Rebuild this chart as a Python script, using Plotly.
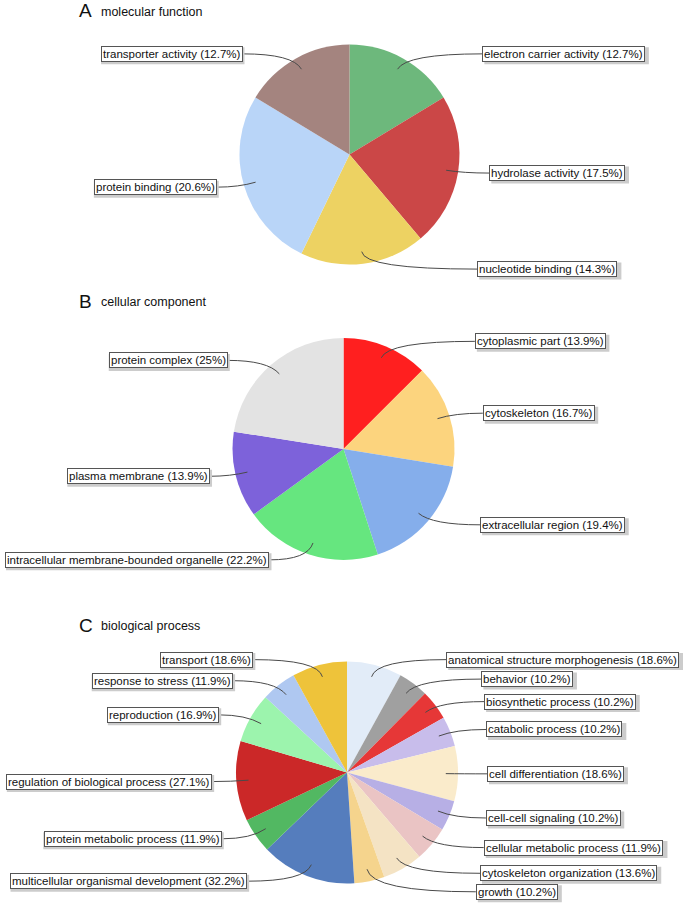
import math
import plotly.graph_objects as go

W, H = 685, 906

# ---------------- data ----------------
mf_labels = ["electron carrier activity", "hydrolase activity", "nucleotide binding",
             "protein binding", "transporter activity"]
mf_pct = [12.7, 17.5, 14.3, 20.6, 12.7]
mf_colors = ["#6DB87C", "#CB4747", "#EDD262", "#B9D5F8", "#A4847F"]

cc_labels = ["cytoplasmic part", "cytoskeleton", "extracellular region",
             "intracellular membrane-bounded organelle", "plasma membrane", "protein complex"]
cc_pct = [13.9, 16.7, 19.4, 22.2, 13.9, 25]
cc_colors = ["#FF1F1F", "#FCD47E", "#85AEEB", "#66E67F", "#7D62DA", "#E3E3E3"]

bp_labels = ["anatomical structure morphogenesis", "behavior", "biosynthetic process",
             "catabolic process", "cell differentiation", "cell-cell signaling",
             "cellular metabolic process", "cytoskeleton organization", "growth",
             "multicellular organismal development", "protein metabolic process",
             "regulation of biological process", "reproduction", "response to stress",
             "transport"]
bp_pct = [18.6, 10.2, 10.2, 10.2, 18.6, 10.2, 11.9, 13.6, 10.2, 32.2, 11.9, 27.1, 16.9, 11.9, 18.6]
bp_colors = ["#E2ECF8", "#A0A0A0", "#E63737", "#C8BDEB", "#FAEBCB", "#B7AFE5",
             "#EAC4C4", "#F4E3C4", "#F5D48D", "#557DBD", "#52B862", "#CB2828",
             "#9CF4AD", "#AFC8F1", "#EEC33A"]

panels = [
    dict(letter="A", name="molecular function", labels=mf_labels, pct=mf_pct, colors=mf_colors,
         cx=349.5, cy=154.5, r=110, ty=11),
    dict(letter="B", name="cellular component", labels=cc_labels, pct=cc_pct, colors=cc_colors,
         cx=343.5, cy=449, r=111, ty=301),
    dict(letter="C", name="biological process", labels=bp_labels, pct=bp_pct, colors=bp_colors,
         cx=347, cy=772.5, r=111, ty=625),
]

FONT = "Liberation Sans, Arial, sans-serif"
FS = 11.5
GAP = 18.5
BOX_H = 17

ARIAL = {'a': 556, 'b': 556, 'c': 500, 'd': 556, 'e': 556, 'f': 278, 'g': 556, 'h': 556, 'i': 222,
         'j': 222, 'k': 500, 'l': 222, 'm': 833, 'n': 556, 'o': 556, 'p': 556, 'q': 556, 'r': 333,
         's': 500, 't': 278, 'u': 556, 'v': 500, 'w': 722, 'x': 500, 'y': 500, 'z': 500, ' ': 278,
         '(': 333, ')': 333, '.': 278, '%': 889, '-': 333}


def text_w(s):
    return sum(ARIAL.get(ch, 556) for ch in s) / 1000 * FS


def px(x):
    return x / W


def py(y):
    return 1 - y / H


fig = go.Figure()
annotations = []
shapes = []

for p in panels:
    cx, cy, r = p["cx"], p["cy"], p["r"]
    fig.add_trace(go.Pie(
        labels=p["labels"], values=p["pct"], sort=False, direction="clockwise", rotation=0,
        marker=dict(colors=p["colors"], line=dict(width=0)),
        textinfo="none", hoverinfo="label+percent", showlegend=False,
        domain=dict(x=[px(cx - r), px(cx + r)], y=[py(cy + r), py(cy - r)]),
    ))

    # title
    annotations.append(dict(x=px(77), y=py(p["ty"]), xref="paper", yref="paper", text=p["letter"],
                            showarrow=False, xanchor="left", yanchor="middle",
                            font=dict(family=FONT, size=19, color="#111")))
    annotations.append(dict(x=px(99), y=py(p["ty"] + 1), xref="paper", yref="paper", text=p["name"],
                            showarrow=False, xanchor="left", yanchor="middle",
                            font=dict(family=FONT, size=12.5, color="#111")))

    total = sum(p["pct"])
    cum = 0
    items = []
    for lab, v in zip(p["labels"], p["pct"]):
        mid = (cum + v / 2) / total * 2 * math.pi
        cum += v
        s, c = math.sin(mid), math.cos(mid)
        items.append(dict(text=f"{lab} ({v:g}%)", s=s, c=c,
                          ax=cx + 0.89 * r * s, ay=cy - 0.89 * r * c,
                          ly=cy - 1.05 * r * c, side=1 if s >= 0 else -1))
    for side in (1, -1):
        grp = sorted([it for it in items if it["side"] == side], key=lambda t: t["ly"])
        for a, b in zip(grp, grp[1:]):
            if b["ly"] - a["ly"] < GAP:
                b["ly"] = a["ly"] + GAP

    for it in items:
        s, c, side = it["s"], it["c"], it["side"]
        tw = text_w(it["text"]) + 6
        if side > 0:
            ex = cx + 126 + 14 * abs(s)
            ex = min(ex, W - 4 - tw)
            bx0, bx1 = ex, ex + tw
        else:
            ex = cx - (80 + 55 * abs(s))
            ex = max(ex, 4 + tw)
            bx0, bx1 = ex - tw, ex
        ax, ay, ly = it["ax"], it["ay"], it["ly"]
        D = abs(ex - ax)
        qx = ax + side * 0.4 * D
        if abs(c) > 0.05:
            t = (ly - ay) / (-c)
            if t > 0:
                qx = ax + s * t
                lim = 0.6 * D
                if side * (qx - ax) > lim:
                    qx = ax + side * lim
                if side * (qx - ax) < 0:
                    qx = ax
        path = (f"M {px(ax):.5f},{py(ay):.5f} Q {px(qx):.5f},{py(ly):.5f} "
                f"{px(ex):.5f},{py(ly):.5f}")
        shapes.append(dict(type="path", path=path, xref="paper", yref="paper",
                           line=dict(color="#4a4a4a", width=1), layer="above"))
        # drop shadow of the label box
        shapes.append(dict(type="rect", xref="paper", yref="paper",
                           x0=px(bx0 + 2), x1=px(bx1 + 2),
                           y0=py(ly - BOX_H / 2 + 2), y1=py(ly + BOX_H / 2 + 2),
                           fillcolor="#cccccc", line=dict(width=0), layer="above"))
        anchor = "left" if side > 0 else "right"
        annotations.append(dict(x=px(ex), y=py(ly), xref="paper", yref="paper", text=it["text"],
                                showarrow=False, xanchor=anchor, yanchor="middle",
                                borderpad=1, borderwidth=1, bordercolor="#555555",
                                bgcolor="#ffffff",
                                font=dict(family=FONT, size=FS, color="#111111")))

fig.update_layout(width=W, height=H, autosize=False, margin=dict(l=0, r=0, t=0, b=0),
                  paper_bgcolor="white", plot_bgcolor="white",
                  annotations=annotations, shapes=shapes)

fig.write_html("out.html", config={"displayModeBar": False},
               post_script="document.body.style.margin='0';")
